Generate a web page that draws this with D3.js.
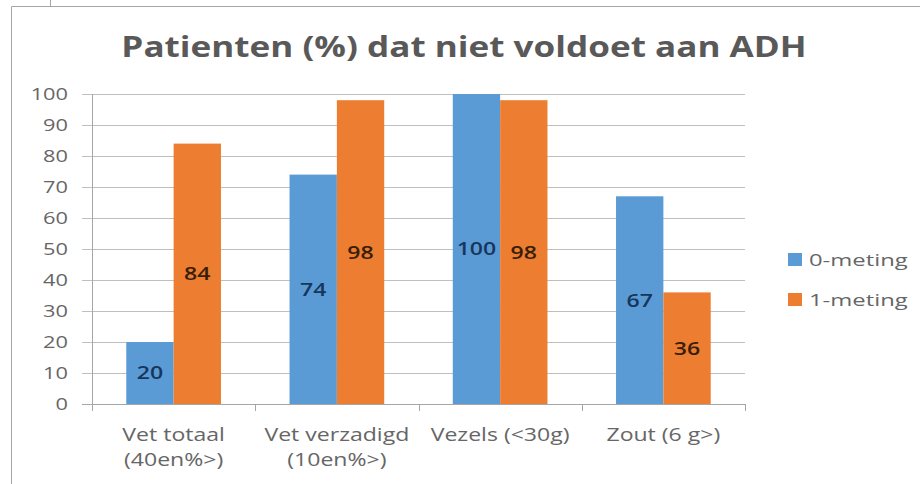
<!DOCTYPE html>
<html>
<head>
<meta charset="utf-8">
<script src="https://cdn.jsdelivr.net/npm/d3@7"></script>
<style>
  html, body { margin: 0; padding: 0; background: #fff; }
  svg { display: block; font-family: 'Open Sans', sans-serif; }
</style>
</head>
<body>
<svg id="chart"></svg>
<script>
const categories = [
  ['Vet totaal', '(40en%>)'],
  ['Vet verzadigd', '(10en%>)'],
  ['Vezels (<30g)'],
  ['Zout (6 g>)']];

const seriesNames = ['0-meting', '1-meting'];
const meting0 = [20, 74, 100, 67];
const meting1 = [84, 98, 98, 36];
const yTicks = [0, 10, 20, 30, 40, 50, 60, 70, 80, 90, 100];
const title = 'Patienten (%) dat niet voldoet aan ADH';

const width = 920;
const height = 484;
const plotLeft = 92;
const plotRight = 745;
const plotTop = 94;
const plotBottom = 404;
const colors = ['#5b9bd5', '#ed7d31'];
const labelColors = ['#17365d', '#3a1e08'];
const textGrey = '#666666';
const stretch = 1.28;

const svg = d3.select('#chart').
attr('width', width).
attr('height', height);

// frame lines of the pasted picture
svg.append('line').
attr('x1', 11.5).attr('x2', width).
attr('y1', 6.5).attr('y2', 6.5).
attr('stroke', '#a6a6a6');
svg.append('line').
attr('x1', 11.5).attr('x2', 11.5).
attr('y1', 6.5).attr('y2', height).
attr('stroke', '#a6a6a6');
svg.append('line').
attr('x1', 50.5).attr('x2', 50.5).
attr('y1', 0).attr('y2', 6.5).
attr('stroke', '#a6a6a6');

const rows = categories.map(function (c, i) {
  return { cat: c.join(' '), lines: c, values: [meting0[i], meting1[i]] };
});

const x = d3.scaleBand().
domain(rows.map(d => d.cat)).
range([plotLeft, plotRight]).
paddingInner(0.42).
paddingOuter(0.21);

const xs = d3.scaleBand().
domain(seriesNames).
range([0, x.bandwidth()]);

const y = d3.scaleLinear().
domain([0, 100]).
range([plotBottom, plotTop]);

// gridlines + y labels
const yAxis = svg.append('g').
attr('transform', 'translate(' + plotLeft + ',0)').
call(d3.axisLeft(y).tickValues(yTicks).tickSize(-(plotRight - plotLeft)).tickPadding(24).tickFormat(d3.format('d')));
yAxis.select('.domain').remove();
yAxis.selectAll('.tick line').
attr('x1', -10).
attr('stroke', '#bfbfbf');
yAxis.selectAll('.tick text').
attr('fill', textGrey).
style('font-family', 'Open Sans, sans-serif').
style('font-size', '17px');

// vertical axis line
svg.append('line').
attr('x1', plotLeft + 0.5).attr('x2', plotLeft + 0.5).
attr('y1', y(100)).attr('y2', plotBottom + 7).
attr('stroke', '#a6a6a6');

// bottom axis with boundary ticks
const bounds = rows.map(d => x(d.cat) - x.step() * x.paddingInner() / 2).concat([plotRight]);
svg.append('line').
attr('x1', plotLeft - 10).attr('x2', plotRight).
attr('y1', plotBottom + 0.5).attr('y2', plotBottom + 0.5).
attr('stroke', '#a6a6a6');
svg.selectAll('.btick').
data(bounds).
enter().
append('line').
attr('class', 'btick').
attr('x1', d => Math.round(d) + 0.5).
attr('x2', d => Math.round(d) + 0.5).
attr('y1', plotBottom).
attr('y2', plotBottom + 7).
attr('stroke', '#a6a6a6');

// bars
const group = svg.selectAll('.grp').
data(rows).
enter().
append('g').
attr('class', 'grp').
attr('transform', d => 'translate(' + x(d.cat) + ',0)');

const cells = group.selectAll('g').
data(function (d) {
  return d.values.map(function (v, i) {
    return { name: seriesNames[i], value: v, i: i };
  });
}).
enter().
append('g');

cells.append('rect').
attr('x', d => xs(d.name)).
attr('y', d => y(d.value)).
attr('width', xs.bandwidth()).
attr('height', d => plotBottom - y(d.value)).
attr('fill', d => colors[d.i]);

cells.append('text').
attr('x', d => xs(d.name) + xs.bandwidth() / 2).
attr('y', d => (y(d.value) + plotBottom) / 2).
attr('dy', '0.36em').
attr('text-anchor', 'middle').
attr('fill', d => labelColors[d.i]).
style('font-size', '18px').
style('font-weight', 600).
text(d => d.value);

// category labels
const catText = svg.selectAll('.cat').
data(rows).
enter().
append('text').
attr('class', 'cat').
attr('text-anchor', 'middle').
attr('fill', textGrey).
style('font-size', '18px');
catText.selectAll('tspan').
data(d => d.lines.map(l => ({ l: l, cx: x(d.cat) + x.bandwidth() / 2 }))).
enter().
append('tspan').
attr('x', d => d.cx).
attr('y', (d, i) => 441 + i * 25).
text(d => d.l);

// title
svg.append('text').
attr('class', 'title').
attr('x', 464).
attr('y', 57).
attr('text-anchor', 'middle').
attr('fill', '#595959').
style('font-size', '29px').
style('font-weight', 700).
text(title);

// legend
const legend = svg.selectAll('.leg').
data(seriesNames).
enter().
append('g').
attr('class', 'leg').
attr('transform', (d, i) => 'translate(788,' + (253 + i * 40) + ')');
legend.append('rect').
attr('width', 14).
attr('height', 13).
attr('fill', (d, i) => colors[i]);
legend.append('text').
attr('class', 'legtext').
attr('x', 21).
attr('y', 13).
attr('fill', textGrey).
style('font-size', '17px').
text(d => d);

// the source picture is stretched sideways, so widen every text the same way
svg.selectAll('text').each(function () {
  const t = d3.select(this);
  if (t.selectAll('tspan').size() > 0) {
    t.selectAll('tspan').each(function () {
      const w = this.getComputedTextLength();
      d3.select(this).attr('textLength', w * stretch).attr('lengthAdjust', 'spacingAndGlyphs');
    });
  } else {
    let k = stretch;
    if (t.classed('title')) k = 1.21;
    if (t.classed('legtext')) k = 1.4;
    const w = this.getComputedTextLength();
    t.attr('textLength', w * k).attr('lengthAdjust', 'spacingAndGlyphs');
  }
});
</script>
</body>
</html>
